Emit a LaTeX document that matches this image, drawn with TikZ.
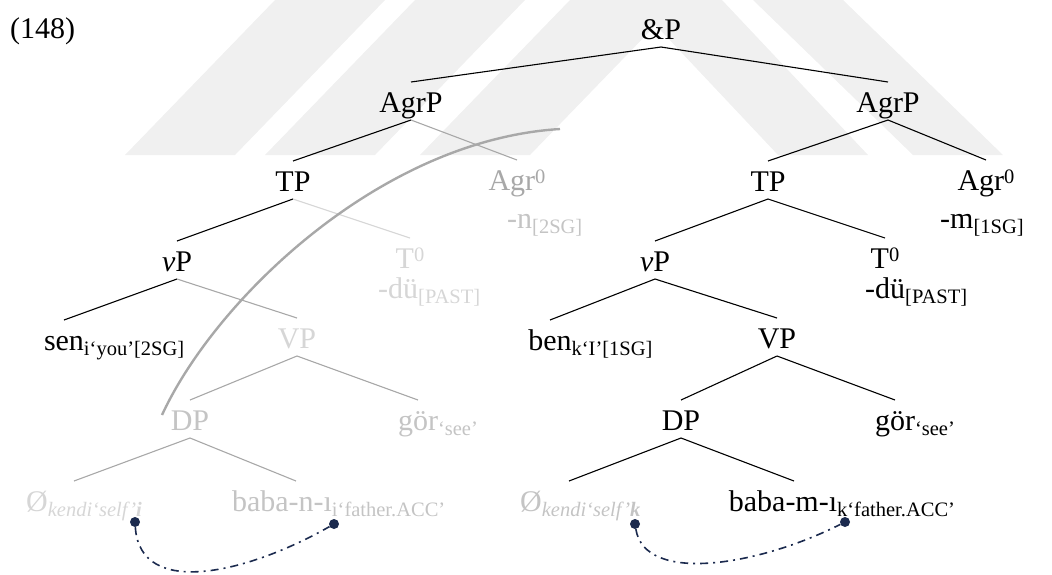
\documentclass[tikz,border=0pt]{standalone}
\usepackage{fontspec}
\setmainfont{Liberation Serif}
\usepackage{tikz}

\definecolor{navy}{HTML}{1B2A4E}
\definecolor{fadeA}{HTML}{A8A8A8}
\definecolor{fadeB}{HTML}{C4C4C4}
\definecolor{fadeC}{HTML}{D6D6D6}
\definecolor{wmgrey}{HTML}{F0F0F0}

\newcommand{\subtxt}[1]{\raisebox{-5pt}{\fontsize{20.5}{24}\selectfont #1}}
\newcommand{\suptxt}[1]{\raisebox{7pt}{\fontsize{20.5}{24}\selectfont #1}}

\tikzset{
  cat/.style={inner sep=0pt, text height=22pt, text depth=0pt, outer ysep=8pt, anchor=base},
  form/.style={inner sep=0pt, anchor=base west},
  br/.style={line width=1.1pt},
  brA/.style={br, draw=fadeA},
  brC/.style={br, draw=fadeC},
  movearc/.style={line width=2.4pt, draw=fadeA},
  bind/.style={line width=1.6pt, draw=navy, dash pattern=on 8pt off 5pt on 2pt off 5pt},
  dot/.style={circle, fill=navy, inner sep=0pt, minimum size=10pt}
}

\begin{document}
\begin{tikzpicture}[x=1pt, y=-1pt, font=\fontsize{30}{36}\selectfont]
\useasboundingbox (0,0) rectangle (1052,574);

% watermark
\fill[wmgrey] (125,155) -- (235,155) -- (385,0) -- (275,0) -- cycle;
\fill[wmgrey] (265,155) -- (375,155) -- (525,0) -- (415,0) -- cycle;
\fill[wmgrey] (420,155) -- (530,155) -- (680,0) -- (570,0) -- cycle;
\fill[wmgrey] (632,0) -- (722,0) -- (868,155) -- (778,155) -- cycle;
\fill[wmgrey] (753,0) -- (843,0) -- (1003,155) -- (913,155) -- cycle;

\node[form] (exnum) at (10,38) {(148)};

% tree
\node[cat] (andp) at (661,39) {\&P};
\node[cat] (agrpL) at (411,112) {AgrP};
\node[cat] (agrpR) at (888,112) {AgrP};

\node[cat] (tpL) at (293,191) {TP};
\node[cat, text=fadeA] (agrL) at (517,190) {Agr\suptxt{0}};
\node[form, text=fadeB] (agrLf) at (507,228) {-n\subtxt{[2SG]}};
\node[cat] (tpR) at (768,191) {TP};
\node[cat] (agrR) at (986,190) {Agr\suptxt{0}};
\node[form] (agrRf) at (940,228) {-m\subtxt{[1SG]}};

\node[cat] (vpL) at (177,271) {\textit{v}P};
\node[cat, text=fadeC] (tL) at (410,268) {T\suptxt{0}};
\node[form, text=fadeC] (tLf) at (378,298) {-dü\subtxt{[PAST]}};
\node[cat] (vpR) at (655,271) {\textit{v}P};
\node[cat] (tR) at (885,268) {T\suptxt{0}};
\node[form] (tRf) at (865,298) {-dü\subtxt{[PAST]}};

\node[cat] (senL) at (64,350) {sen\rlap{\subtxt{i‘you’[2SG]}}};
\node[cat, text=fadeC] (vbarL) at (297,348) {VP};
\node[cat] (benR) at (550,350) {ben\rlap{\subtxt{k‘I’[1SG]}}};
\node[cat] (vbarR) at (777,348) {VP};

\node[cat, text=fadeB] (dpL) at (190,430) {DP};
\node[cat, text=fadeB] (gorL) at (418,430) {gör\rlap{\subtxt{‘see’}}};
\node[cat] (dpR) at (681,430) {DP};
\node[cat] (gorR) at (895,430) {gör\rlap{\subtxt{‘see’}}};

\node[cat, text=fadeC] (nullL) at (37,511) {Ø\rlap{\subtxt{\textit{kendi‘self’}\textbf{\textit{i}}}}};
\node[cat, text=fadeB] (babaL) at (282,511) {baba-n-ı\rlap{\subtxt{i‘father.ACC’}}};
\node[cat, text=fadeB] (nullR) at (531,511) {Ø\rlap{\subtxt{\textit{kendi‘self’}\textbf{\textit{k}}}}};
\node[cat] (babaR) at (783,511) {baba-m-ı\rlap{\subtxt{k‘father.ACC’}}};

\draw[br] (andp.south) -- (agrpL.north);
\draw[br] (andp.south) -- (agrpR.north);

\draw[br] (agrpL.south) -- (tpL.north);
\draw[brA] (agrpL.south) -- (agrL.north);
\draw[br] (tpL.south) -- (vpL.north);
\draw[brC] (tpL.south) -- (tL.north);
\draw[br] (vpL.south) -- (senL.north);
\draw[brA] (vpL.south) -- (vbarL.north);
\draw[brA] (vbarL.south) -- (dpL.north);
\draw[brA] (vbarL.south) -- (gorL.north);
\draw[brA] (dpL.south) -- ([xshift=37pt]nullL.north);
\draw[brA] (dpL.south) -- ([xshift=14pt]babaL.north);

\draw[br] (agrpR.south) -- (tpR.north);
\draw[br] (agrpR.south) -- (agrR.north);
\draw[br] (tpR.south) -- (vpR.north);
\draw[br] (tpR.south) -- (tR.north);
\draw[br] (vpR.south) -- (benR.north);
\draw[br] (vpR.south) -- (vbarR.north);
\draw[br] (vbarR.south) -- (dpR.north);
\draw[br] (vbarR.south) -- (gorR.north);
\draw[br] (dpR.south) -- ([xshift=38pt]nullR.north);
\draw[br] (dpR.south) -- ([xshift=11pt]babaR.north);

% movement arc
\coordinate (arcfoot) at (162,415);
\coordinate (arctip) at (560,129);
\draw[movearc] (arcfoot) .. controls (215,300) and (380,140) .. (arctip);

% binding
\node[dot] (bindL1) at (135,522) {};
\node[dot] (bindL2) at (334,524) {};
\node[dot] (bindR1) at (635,524) {};
\node[dot] (bindR2) at (845,522) {};
\draw[bind] (bindL1) .. controls (140,600) and (250,572) .. (bindL2);
\draw[bind] (bindR1) .. controls (645,585) and (760,565) .. (bindR2);
\end{tikzpicture}
\end{document}
